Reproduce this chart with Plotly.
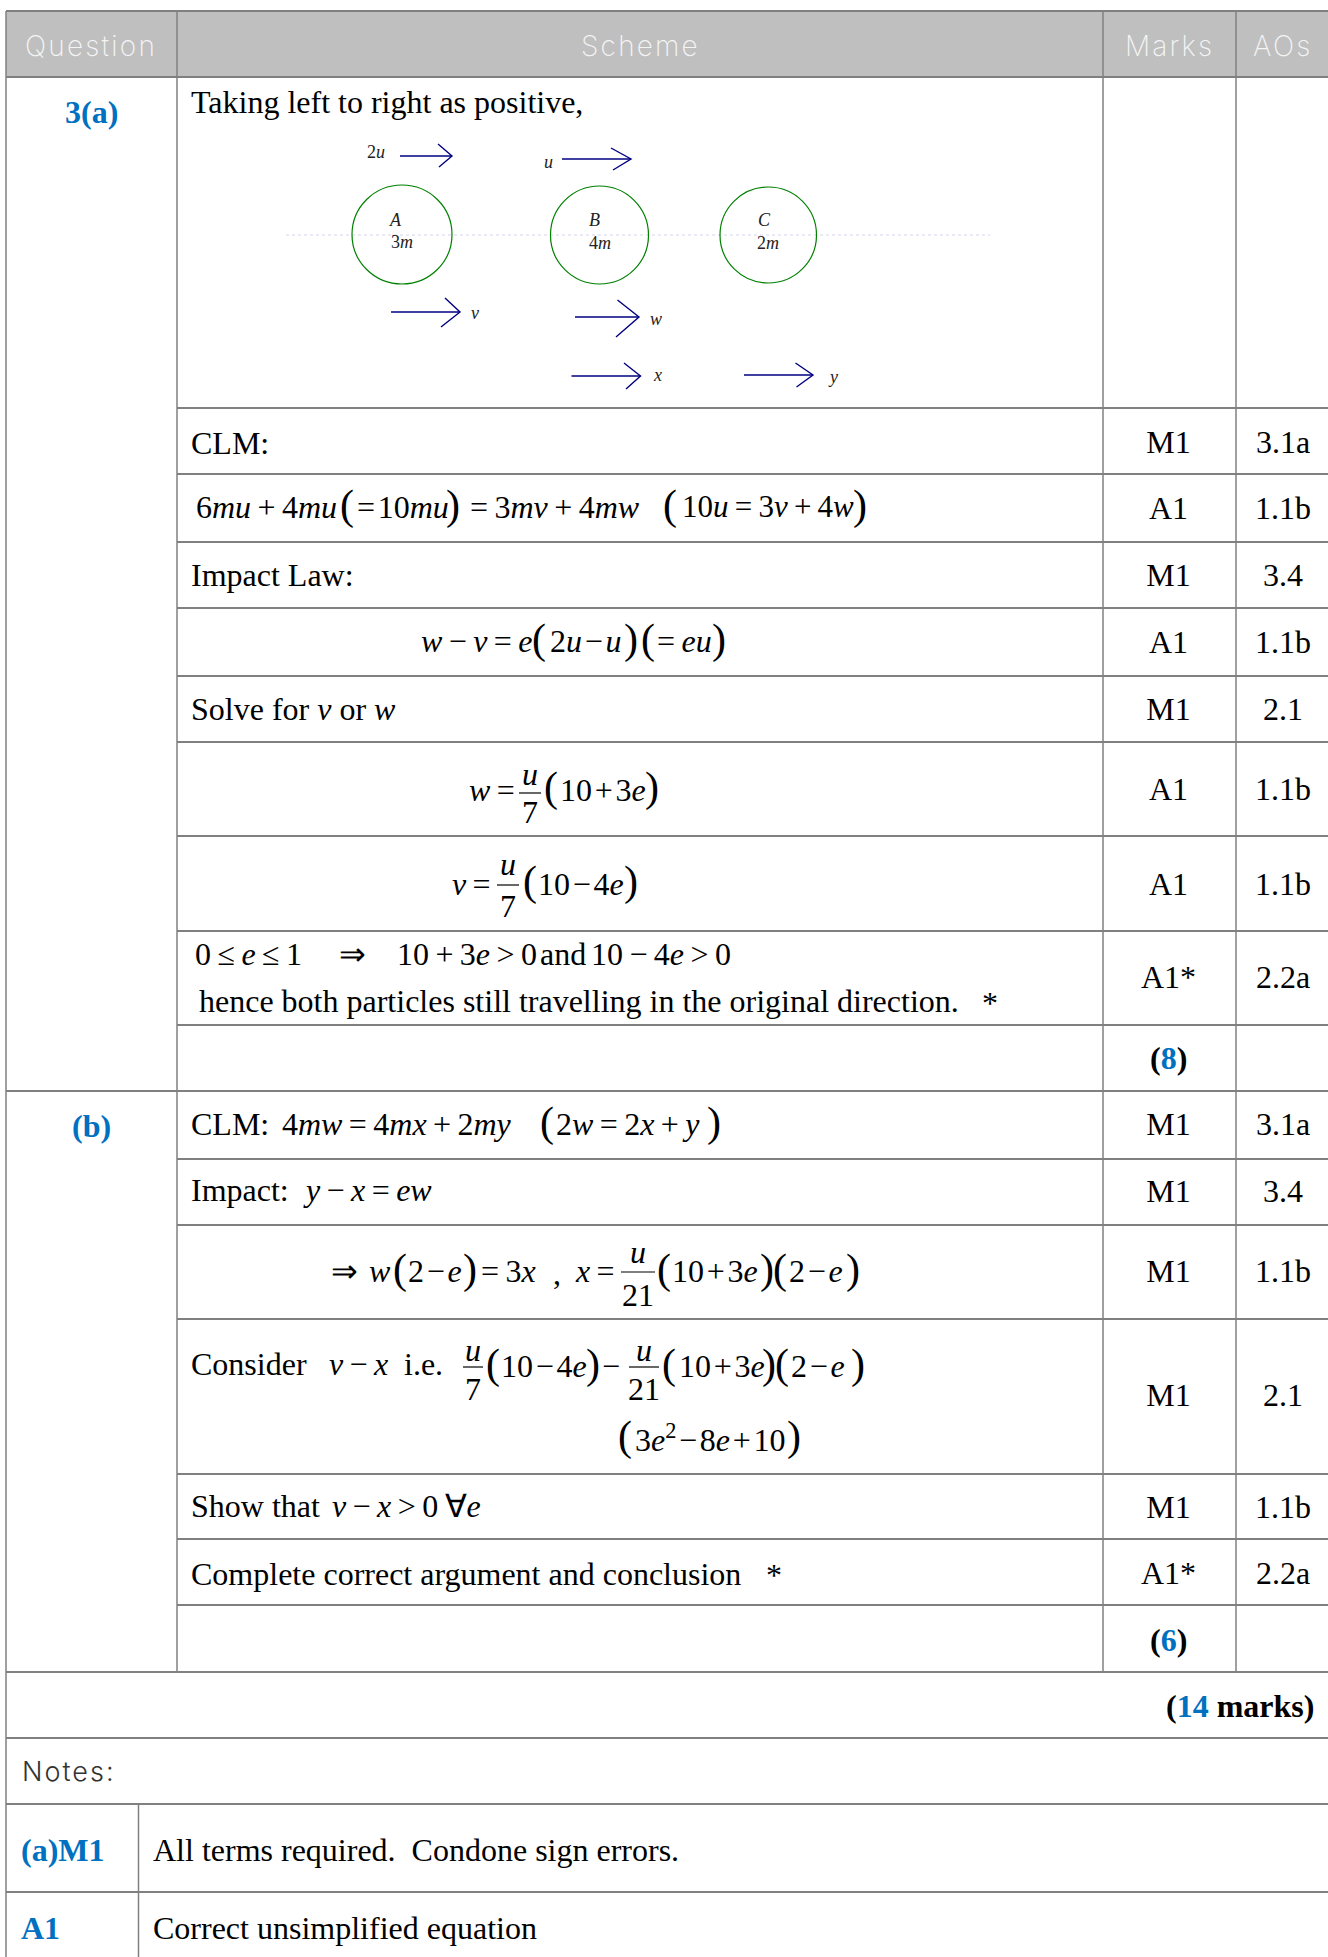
import plotly.graph_objects as go

W, H = 1328, 1957
SERIF = "Liberation Serif"
SANS = "Inter"
BLUE = "#0070c0"
LINE = "#808080"
TS = "\u2009"  # thin space round operators
HS = "\u200a"  # hair space, for the tighter formulas
MS = "\u2005"
BODY = 32

# table text
HEADERS = ["Question", "Scheme", "Marks", "AOs"]
MARKS = ["M1", "A1", "M1", "A1", "M1", "A1", "A1", "A1*",
         "M1", "M1", "M1", "M1", "M1", "A1*"]
AOS = ["3.1a", "1.1b", "3.4", "1.1b", "2.1", "1.1b", "1.1b", "2.2a",
       "3.1a", "3.4", "1.1b", "2.1", "1.1b", "2.2a"]
PLAIN_LINES = ["Taking left to right as positive,", "CLM:", "Impact Law:",
               "Consider", "i.e.", "CLM:", "Impact:", "Show that",
               "Complete correct argument and conclusion", "*",
               "hence both particles still travelling in the original direction.", "*"]
SUBTOTALS = ["8", "6"]
NOTES = ["All terms required.  Condone sign errors.", "Correct unsimplified equation"]
NOTE_KEYS = ["(a)M1", "A1"]

# table geometry
COL_X = [6, 177, 1103, 1236]
FULL_RULES = [77, 1091, 1672, 1738, 1804, 1892]
SCHEME_RULES = [408, 474, 542, 608, 676, 742, 836, 931, 1025, 1159, 1225, 1319, 1474, 1539, 1605]
TOP, TABLE_BOTTOM = 11, 1672
MARK_Y = [445, 511, 578, 645, 712, 792, 887, 980, 1127, 1194, 1274, 1398, 1510, 1576]
NOTE_Y = [1851, 1929]

fig = go.Figure()


def put(x, y, text, size=BODY, anchor="left", color="black", family=SERIF, weight=None):
    fig.add_annotation(x=x, y=y - 1.5, text=text, showarrow=False, xanchor=anchor, yanchor="middle",
                       borderpad=0, font=dict(family=family, size=size, color=color, weight=weight))


def rules(xs, ys, color=LINE, width=2, dash=None):
    fig.add_trace(go.Scatter(x=xs, y=ys, mode="lines", hoverinfo="skip",
                             line=dict(color=color, width=width, dash=dash)))


def paren(x, y, s, size=42):
    put(x, y - 1, s, size=size, anchor="center")


def frac(cx, half, y_num, y_bar, y_den, num, den):
    put(cx, y_num, "<i>%s</i>" % num, anchor="center")
    rules([cx - half, cx + half], [y_bar, y_bar], color="black", width=1.2)
    put(cx, y_den, den, anchor="center")


def spaced(t, px):
    return "<span style='letter-spacing:%spx'>%s</span>" % (px, t)


# header band
fig.add_shape(type="rect", x0=COL_X[0], x1=W, y0=TOP, y1=FULL_RULES[0], fillcolor="#bfbfbf", line_width=0, layer="below")

# rules of the table
xs, ys = [], []
for r in FULL_RULES:
    xs += [COL_X[0], W, None]
    ys += [r, r, None]
for r in SCHEME_RULES:
    xs += [COL_X[1], W, None]
    ys += [r, r, None]
xs += [COL_X[0], W]
ys += [TOP, TOP]
rules(xs, ys, width=2.2)
xs, ys = [COL_X[0], COL_X[0], None], [TOP, H, None]
for c in COL_X[1:]:
    xs += [c, c, None]
    ys += [TOP, TABLE_BOTTOM, None]
xs += [138.5, 138.5]
ys += [1804, H]
rules(xs, ys, width=1.5)

# header text
for x, t in zip([91, 640, 1169, 1283], HEADERS):
    put(x, 47, spaced(t, 2.2), size=28, anchor="center", color="#f4f4f4", family=SANS, weight=200)

# marks and AO columns, plotted through the axes
fig.add_trace(go.Scatter(x=[1168.5] * len(MARKS), y=MARK_Y, text=MARKS, mode="text", textposition="middle center",
                         cliponaxis=False, hoverinfo="skip", textfont=dict(family=SERIF, size=BODY, color="black")))
fig.add_trace(go.Scatter(x=[1283] * len(AOS), y=MARK_Y, text=AOS, mode="text", textposition="middle center",
                         cliponaxis=False, hoverinfo="skip", textfont=dict(family=SERIF, size=BODY, color="black")))

# question labels and subtotals
put(91, 113, "<b>3(a)</b>", anchor="center", color=BLUE)
put(91, 1127, "<b>(b)</b>", anchor="center", color=BLUE)
for y, t in zip([1059, 1641], SUBTOTALS):
    put(1168.5, y, "<b>(<span style='color:%s'>%s</span>)</b>" % (BLUE, t), anchor="center")
put(1315, 1707, "<b>(<span style='color:%s'>14</span> marks)</b>" % BLUE, anchor="right")

# plain scheme text
put(190, 103, PLAIN_LINES[0])
put(190, 444, PLAIN_LINES[1])
put(190, 576, PLAIN_LINES[2])
put(190, 1125, PLAIN_LINES[5])
put(190, 1191, PLAIN_LINES[6])
put(190, 1365, PLAIN_LINES[3])
put(403, 1365, PLAIN_LINES[4])
put(190, 1507, PLAIN_LINES[7])
put(190, 1575, PLAIN_LINES[8])
put(774, 1576, PLAIN_LINES[9], anchor="center")
put(198, 1002, PLAIN_LINES[10])
put(990, 1004, PLAIN_LINES[11], anchor="center")
put(190, 710, "Solve for <i>v</i> or <i>w</i>")

# equations
put(195, 508, "6<i>mu</i>" + TS + "+" + TS + "4<i>mu</i>")
paren(347, 508, "(")
put(356, 508, "=" + HS + "10<i>mu</i>")
paren(453, 508, ")")
put(469, 508, "=" + TS + "3<i>mv</i>" + TS + "+" + TS + "4<i>mw</i>")
paren(670, 508, "(")
put(681, 508, "10<i>u</i>" + TS + "=" + TS + "3<i>v</i>" + TS + "+" + TS + "4<i>w</i>", size=31)
paren(860, 508, ")")

put(420, 642, "<i>w</i>" + TS + "\u2212" + TS + "<i>v</i>" + TS + "=" + TS + "<i>e</i>")
paren(539, 642, "(")
put(549, 642, "2<i>u</i>" + HS + "\u2212" + HS + "<i>u</i>")
paren(631, 642, ")")
paren(648, 642, "(")
put(656, 642, "=" + TS + "<i>eu</i>")
paren(719, 642, ")")

put(468, 791, "<i>w</i>" + TS + "=")
frac(530, 11, 775, 793, 813, "u", "7")
paren(551, 790, "(")
put(559, 791, "10" + HS + "+" + HS + "3<i>e</i>")
paren(652, 790, ")")

put(451, 885, "<i>v</i>" + TS + "=")
frac(508, 11, 865, 885, 907, "u", "7")
paren(530, 884, "(")
put(537, 885, "10" + HS + "\u2212" + HS + "4<i>e</i>")
paren(631, 884, ")")

put(194, 955, "0" + TS + "\u2264" + TS + "<i>e</i>" + TS + "\u2264" + TS + "1")
put(352, 955, "\u21d2", anchor="center")
put(396, 955, "10" + TS + "+" + TS + "3<i>e</i>" + TS + "&gt;" + TS + "0")
put(539, 955, "and")
put(590, 955, "10" + TS + "\u2212" + TS + "4<i>e</i>" + TS + "&gt;" + TS + "0")

put(281, 1125, "4<i>mw</i>" + TS + "=" + TS + "4<i>mx</i>" + TS + "+" + TS + "2<i>my</i>")
paren(547, 1125, "(")
put(555, 1125, "2<i>w</i>" + TS + "=" + TS + "2<i>x</i>" + TS + "+" + TS + "<i>y</i>")
paren(714, 1125, ")")

put(302, 1191, "<i>y</i>" + TS + "\u2212" + TS + "<i>x</i>" + TS + "=" + TS + "<i>ew</i>")

put(330, 1272, "\u21d2")
put(368, 1272, "<i>w</i>")
paren(400, 1272, "(")
put(407, 1272, "2" + HS + "\u2212" + HS + "<i>e</i>")
paren(470, 1272, ")")
put(480, 1272, "=" + TS + "3<i>x</i>")
put(552, 1274, ",")
put(574, 1272, "<i>x</i>" + TS + "=")
frac(638, 17, 1253, 1272, 1296, "u", "21")
paren(664, 1272, "(")
put(671, 1272, "10" + HS + "+" + HS + "3<i>e</i>")
paren(767, 1272, ")")
paren(780, 1272, "(")
put(788, 1272, "2" + HS + "\u2212" + HS + "<i>e</i>")
paren(853, 1272, ")")

put(328, 1365, "<i>v</i>" + TS + "\u2212" + TS + "<i>x</i>")
frac(473, 10, 1351, 1367, 1390, "u", "7")
paren(493, 1367, "(")
put(500, 1367, "10" + HS + "\u2212" + HS + "4<i>e</i>")
paren(593, 1367, ")")
put(601, 1367, "\u2212")
frac(644, 15, 1351, 1367, 1390, "u", "21")
paren(669, 1367, "(")
put(678, 1367, "10" + HS + "+" + HS + "3<i>e</i>")
paren(769, 1367, ")")
paren(782, 1367, "(")
put(790, 1367, "2" + HS + "\u2212" + HS + "<i>e</i>")
paren(858, 1367, ")")
paren(625, 1439, "(")
put(634, 1439, "3<i>e</i><sup>2</sup>" + HS + "\u2212" + HS + "8<i>e</i>" + HS + "+" + HS + "10")
paren(794, 1439, ")")

put(331, 1507, "<i>v</i>" + TS + "\u2212" + TS + "<i>x</i>" + TS + "&gt;" + TS + "0" + TS + "\u2200<i>e</i>")

# notes
put(21, 1773, spaced("Notes:", 2), size=27, color="#333333", family=SANS, weight=300)
for y, k, t in zip(NOTE_Y, NOTE_KEYS, NOTES):
    put(20, y, "<b>%s</b>" % k, color=BLUE)
    put(152, y, t)

# particle diagram
rules([286, 990], [235, 235], color="#e4e4f2", width=1.5, dash="dot")
for x0, x1, y0, y1 in [(352, 452, 185, 284), (550.5, 648.5, 186, 284), (720, 816.5, 187, 283)]:
    fig.add_shape(type="circle", x0=x0, x1=x1, y0=y0, y1=y1, line=dict(color="#008000", width=1.2))
ARROWS = [(400, 452, 156, 438, 144, 439, 167), (562, 631, 159, 611, 148, 613, 170),
          (391, 460, 312, 445, 298, 441, 327), (575, 639, 317, 617.5, 300, 616, 337),
          (571.5, 640.5, 376, 624, 363, 626, 389), (744, 813, 375, 795.5, 363, 796.5, 387)]
for x0, x1, y, hx0, hy0, hx1, hy1 in ARROWS:
    rules([x0, x1, None, hx0, x1, hx1], [y, y, None, hy0, y, hy1], color="#000080", width=1.4)
for x, y, t in [(376, 153, "2<i>u</i>"), (548, 163, "<i>u</i>"), (475, 314, "<i>v</i>"), (656, 320, "<i>w</i>"),
                (657, 376, "<i>x</i>"), (832.5, 378, "<i>y</i>"), (395.5, 221, "<i>A</i>"), (402, 243, "3<i>m</i>"),
                (594.5, 221, "<i>B</i>"), (600, 244, "4<i>m</i>"), (764, 221, "<i>C</i>"), (768, 244, "2<i>m</i>")]:
    put(x, y, t, size=18, anchor="center", color="#222222")

fig.update_layout(width=W, height=H, margin=dict(l=0, r=0, t=0, b=0), showlegend=False,
                  paper_bgcolor="white", plot_bgcolor="white",
                  xaxis=dict(range=[0, W], visible=False, fixedrange=True),
                  yaxis=dict(range=[H, 0], visible=False, fixedrange=True))

fig.write_html("out.html", config={"displayModeBar": False},
               post_script="document.body.style.margin='0';")
